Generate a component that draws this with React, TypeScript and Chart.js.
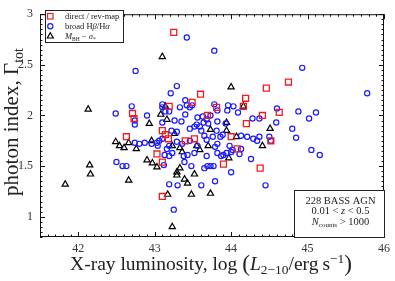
import React, { useEffect, useRef } from "react";
import { Chart, registerables } from "chart.js";
Chart.register(...registerables);

const xTicks = [42, 43, 44, 45, 46];
const yTicks = [1, 1.5, 2, 2.5, 3];
const xRange = [41.5, 46];
const yRange = [0.8, 3];

const directRevMap: [number, number][] = [
  [43.25, 2.82], [42.71, 2.02], [42.73, 1.97], [43.19, 2.09], [43.49, 2.13], [43.6, 2.21],
  [44.19, 2.17], [44.46, 2.27], [44.75, 2.33], [44.16, 2.09], [43.81, 2.08], [43.69, 2.0],
  [44.41, 2.0], [44.63, 2.03], [44.2, 1.92], [44.0, 1.79], [44.52, 1.75], [44.08, 1.67],
  [43.9, 1.52], [44.38, 1.48], [42.63, 1.79], [43.1, 1.85], [43.14, 1.81], [43.18, 1.77],
  [43.4, 1.75], [43.52, 1.77], [43.03, 1.62], [43.1, 1.54], [43.1, 1.2],
];

const broadLines: [number, number][] = [
  [43.42, 2.77], [42.75, 2.44], [43.78, 2.64], [44.93, 2.47], [45.78, 2.22], [43.29, 2.29],
  [43.21, 2.22], [43.4, 2.15], [42.7, 2.09], [43.1, 2.11], [43.33, 2.08], [43.42, 2.1],
  [43.46, 2.08], [43.49, 2.1], [42.49, 2.02], [42.9, 2.0], [43.1, 2.08], [43.14, 2.04],
  [43.19, 2.04], [43.4, 2.01], [42.74, 1.95], [42.74, 1.91], [43.1, 1.93], [43.26, 1.95],
  [43.35, 1.94], [43.56, 1.98], [43.78, 2.11], [43.96, 2.1], [44.03, 2.09], [43.82, 2.05],
  [43.95, 2.05], [44.09, 2.03], [44.6, 2.07], [44.88, 2.04], [45.11, 2.03], [45.02, 1.97],
  [44.28, 1.97], [44.37, 1.97], [43.63, 1.99], [43.68, 1.96], [43.73, 2.0], [43.64, 1.93],
  [43.7, 1.92], [43.82, 1.94], [43.93, 1.92], [44.59, 1.93], [44.8, 1.87], [44.85, 1.78],
  [44.5, 1.79], [44.52, 1.75], [44.13, 1.8], [44.21, 1.79], [44.29, 1.77], [44.34, 1.75],
  [44.37, 1.79], [45.05, 1.66], [45.16, 1.61], [44.13, 1.67], [44.11, 1.62], [44.0, 1.64],
  [43.94, 1.63], [43.9, 1.61], [43.82, 1.63], [43.68, 1.6], [44.26, 1.57], [43.77, 1.5],
  [43.73, 1.5], [43.69, 1.5], [43.65, 1.48], [44.0, 1.44], [43.61, 1.31], [43.79, 1.35],
  [44.45, 1.31], [43.25, 1.07], [43.19, 1.32], [43.3, 1.31], [42.5, 1.54], [42.58, 1.5],
  [42.63, 1.5], [43.12, 1.51], [43.39, 1.54], [43.48, 1.5], [43.46, 1.87], [43.55, 1.91],
  [43.59, 1.89], [43.22, 1.85], [43.29, 1.84], [43.06, 1.75], [43.1, 1.77], [43.65, 1.8],
  [43.76, 1.79], [43.81, 1.85], [43.82, 1.72], [42.96, 1.72], [43.03, 1.73], [42.87, 1.73],
  [42.8, 1.72], [42.74, 1.73], [43.29, 1.74], [43.36, 1.72], [43.04, 1.7], [43.16, 1.67],
  [43.19, 1.7], [43.13, 1.61], [43.19, 1.6], [43.23, 1.63], [43.38, 1.6], [43.43, 1.61],
  [43.52, 1.89], [43.46, 1.75], [43.61, 1.85], [43.68, 1.76], [43.86, 1.79], [43.89, 1.81],
  [43.98, 1.7], [44.02, 1.66], [43.56, 1.7], [43.79, 1.69], [43.87, 1.6], [43.52, 1.63],
];

const mSigma: [number, number][] = [
  [41.83, 1.32], [42.15, 1.51], [42.16, 1.42], [42.13, 2.06], [43.1, 2.58], [44.0, 2.28],
  [44.16, 2.09], [43.14, 2.09], [43.08, 2.01], [43.16, 1.96], [42.93, 1.92], [43.94, 1.93],
  [43.94, 1.85], [43.73, 1.86], [44.51, 1.87], [44.07, 1.79], [44.41, 1.7], [43.97, 1.58],
  [43.73, 1.23], [42.49, 1.74], [42.54, 1.7], [42.6, 1.68], [42.66, 1.73], [42.76, 1.67],
  [42.96, 1.75], [42.9, 1.56], [42.97, 1.53], [43.03, 1.49], [42.66, 1.36], [43.23, 1.7],
  [43.33, 1.68], [43.36, 1.64], [43.26, 1.82], [43.55, 1.7], [43.59, 1.66], [43.7, 1.7],
  [43.29, 1.44], [43.33, 1.48], [43.29, 1.41], [43.39, 1.37], [43.43, 1.33], [43.52, 1.42],
  [43.17, 1.22], [43.48, 1.22], [43.23, 0.9],
];

const SERIF = '"Liberation Serif", "Times New Roman", serif';
const RED = "#f01c1c";
const BLUE = "#1a1aff";

type Part = { t: string; size: number; italic?: boolean; dy?: number };

function fontOf(p: Part, scale: number) {
  return `${p.italic ? "italic " : ""}${p.size * scale}px ${SERIF}`;
}
function richWidth(ctx: CanvasRenderingContext2D, parts: Part[], scale = 1) {
  let w = 0;
  for (const p of parts) {
    ctx.font = fontOf(p, scale);
    w += ctx.measureText(p.t).width;
  }
  return w;
}
function drawRich(
  ctx: CanvasRenderingContext2D,
  parts: Part[],
  x: number,
  y: number,
  align: "left" | "center",
  scale = 1
) {
  const w = richWidth(ctx, parts, scale);
  let cx = align === "center" ? x - w / 2 : x;
  ctx.textAlign = "left";
  ctx.textBaseline = "alphabetic";
  for (const p of parts) {
    ctx.font = fontOf(p, scale);
    ctx.fillText(p.t, cx, y + (p.dy || 0) * scale);
    cx += ctx.measureText(p.t).width;
  }
}

const xTitle: Part[] = [
  { t: "X-ray luminosity, log ", size: 16 },
  { t: "(", size: 19, dy: 1 },
  { t: "L", size: 16, italic: true },
  { t: "2−10", size: 11, dy: 3 },
  { t: "/erg\u2009s", size: 16 },
  { t: "−1", size: 11, dy: -6 },
  { t: ")", size: 19, dy: 1 },
];
const yTitle: Part[] = [
  { t: "photon index, Γ", size: 18 },
  { t: "tot", size: 12, dy: 4 },
];

const framePlugin = {
  id: "frameAndText",
  afterDraw(chart: any) {
    const ctx: CanvasRenderingContext2D = chart.ctx;
    const { left, right, top, bottom } = chart.chartArea;
    const xs = chart.scales.x;
    const ys = chart.scales.y;
    ctx.save();
    ctx.strokeStyle = "#111";
    ctx.lineWidth = 1;
    ctx.strokeRect(left + 0.5, top + 0.5, right - left - 1, bottom - top - 1);

    ctx.beginPath();
    for (let i = 0; i <= 45; i++) {
      const v = xRange[0] + i * 0.1;
      const px = Math.round(xs.getPixelForValue(v)) + 0.5;
      const major = Math.abs(v - Math.round(v)) < 1e-6;
      const len = major ? 5 : 2.5;
      ctx.moveTo(px, bottom);
      ctx.lineTo(px, bottom - len);
      ctx.moveTo(px, top);
      ctx.lineTo(px, top + len);
    }
    for (let i = 0; i <= 44; i++) {
      const v = yRange[0] + i * 0.05;
      const py = Math.round(ys.getPixelForValue(v)) + 0.5;
      const major = Math.abs(v * 2 - Math.round(v * 2)) < 1e-6;
      const len = major ? 5 : 2.5;
      ctx.moveTo(left, py);
      ctx.lineTo(left + len, py);
      ctx.moveTo(right, py);
      ctx.lineTo(right - len, py);
    }
    ctx.stroke();

    // legend box
    ctx.fillStyle = "#fff";
    ctx.fillRect(45, 10, 78, 32);
    ctx.strokeStyle = "#222";
    ctx.strokeRect(45.5, 10.5, 78, 32);
    ctx.lineWidth = 1.2;
    ctx.strokeStyle = RED;
    ctx.strokeRect(47.5, 13.5, 5.5, 5.5);
    ctx.strokeStyle = BLUE;
    ctx.beginPath();
    ctx.arc(50.3, 26.3, 2.6, 0, Math.PI * 2);
    ctx.stroke();
    ctx.strokeStyle = "#000";
    ctx.beginPath();
    ctx.moveTo(50.3, 32.8);
    ctx.lineTo(53.3, 38);
    ctx.lineTo(47.3, 38);
    ctx.closePath();
    ctx.stroke();
    ctx.fillStyle = "#222";
    drawRich(ctx, [{ t: "direct / rev-map", size: 8.5 }], 65, 19, "left");
    drawRich(
      ctx,
      [
        { t: "broad H", size: 8.5 },
        { t: "β", size: 8.5, italic: true },
        { t: "/H", size: 8.5 },
        { t: "α", size: 8.5, italic: true },
      ],
      65,
      29,
      "left"
    );
    drawRich(
      ctx,
      [
        { t: "M", size: 8.5, italic: true },
        { t: "BH", size: 5.5, dy: 1.5 },
        { t: " − ", size: 8.5 },
        { t: "σ", size: 8.5, italic: true },
        { t: "*", size: 5.5, dy: 1.5 },
      ],
      65,
      39,
      "left"
    );

    // annotation box
    ctx.fillStyle = "#fff";
    ctx.fillRect(294, 190, right - 294, bottom - 190);
    ctx.strokeStyle = "#222";
    ctx.lineWidth = 1;
    ctx.strokeRect(294.5, 190.5, right - 294, bottom - 190);
    ctx.fillStyle = "#222";
    const cx = 340.5;
    drawRich(ctx, [{ t: "228 BASS AGN", size: 10.5 }], cx, 204, "center");
    drawRich(
      ctx,
      [
        { t: "0.01 < ", size: 10.5 },
        { t: "z", size: 10.5, italic: true },
        { t: " < 0.5", size: 10.5 },
      ],
      cx,
      214,
      "center"
    );
    drawRich(
      ctx,
      [
        { t: "N", size: 10.5, italic: true },
        { t: "counts", size: 7, dy: 2 },
        { t: " > 1000", size: 10.5 },
      ],
      cx,
      224.5,
      "center"
    );

    // axis titles
    ctx.fillStyle = "#222";
    const xs1 = 282 / richWidth(ctx, xTitle);
    drawRich(ctx, xTitle, 211, 270, "center", xs1);
    const ys1 = 148 / richWidth(ctx, yTitle);
    ctx.translate(18, 122);
    ctx.rotate(-Math.PI / 2);
    drawRich(ctx, yTitle, 0, 0, "center", ys1);
    ctx.restore();
  },
};

export default function App() {
  const ref = useRef<HTMLCanvasElement | null>(null);
  useEffect(() => {
    if (!ref.current) return;
    const toPts = (a: [number, number][]) => a.map(([x, y]) => ({ x, y }));
    const tickFont = { family: SERIF, size: 12 };
    const chart = new Chart(ref.current, {
      type: "scatter",
      data: {
        datasets: [
          {
            label: "direct / rev-map",
            data: toPts(directRevMap),
            pointStyle: "rect",
            pointRadius: 4.2,
            borderColor: RED,
            backgroundColor: "rgba(0,0,0,0)",
            borderWidth: 1.3,
          },
          {
            label: "broad Hβ/Hα",
            data: toPts(broadLines),
            pointStyle: "circle",
            pointRadius: 2.6,
            borderColor: BLUE,
            backgroundColor: "rgba(0,0,0,0)",
            borderWidth: 1.2,
          },
          {
            label: "M_BH - sigma",
            data: toPts(mSigma),
            pointStyle: "triangle",
            pointRadius: 3.6,
            borderColor: "#000",
            backgroundColor: "rgba(0,0,0,0)",
            borderWidth: 1.2,
          },
        ],
      },
      options: {
        responsive: false,
        animation: false,
        events: [],
        layout: { padding: { top: 6, right: 8, left: 0, bottom: 0 } },
        plugins: { legend: { display: false }, tooltip: { enabled: false } },
        scales: {
          x: {
            type: "linear",
            min: xRange[0],
            max: xRange[1],
            grid: { display: false, drawTicks: false },
            border: { display: false },
            afterBuildTicks: (s: any) => {
              s.ticks = xTicks.map((v) => ({ value: v }));
            },
            afterFit: (s: any) => {
              s.height = 44;
            },
            ticks: {
              padding: 5,
              font: tickFont,
              color: "#333",
              maxRotation: 0,
              callback: (v: any) => String(v),
            },
          },
          y: {
            type: "linear",
            min: yRange[0],
            max: yRange[1],
            grid: { display: false, drawTicks: false },
            border: { display: false },
            afterBuildTicks: (s: any) => {
              s.ticks = yTicks.map((v) => ({ value: v }));
            },
            afterFit: (s: any) => {
              s.width = 40;
            },
            ticks: {
              padding: 7,
              font: tickFont,
              color: "#333",
              callback: (v: any) => String(v),
            },
          },
        },
      } as any,
      plugins: [framePlugin],
    });
    return () => chart.destroy();
  }, []);
  return (
    <div style={{ position: "fixed", left: 0, top: 0, width: 395, height: 281, background: "#fff" }}>
      <canvas ref={ref} width={395} height={281} style={{ display: "block" }} />
    </div>
  );
}
